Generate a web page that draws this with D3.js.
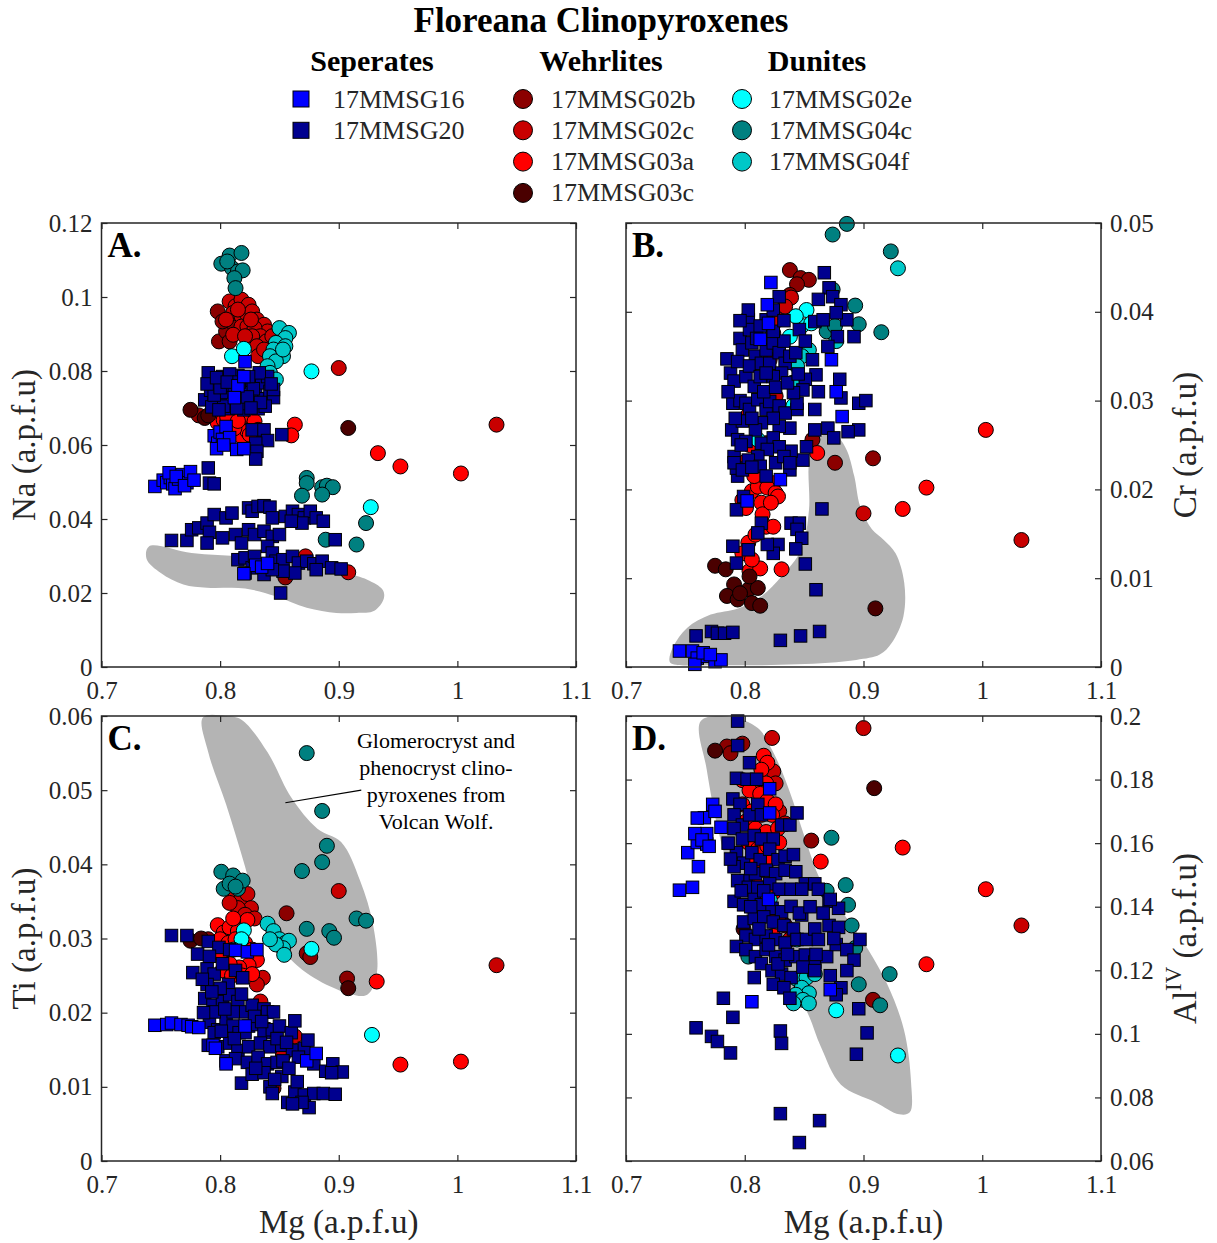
<!DOCTYPE html>
<html>
<head>
<meta charset="utf-8">
<script src="https://cdn.jsdelivr.net/npm/d3@7"></script>
<style>
  body { margin: 0; background: #fff; }
  text { font-family: "Liberation Serif", "Times New Roman", serif; }
</style>
</head>
<body>
<svg id="chart" width="1217" height="1243"></svg>
<script>
// tick values
var mgTicks = [0.7, 0.8, 0.9, 1, 1.1];
var naTicks = [0, 0.02, 0.04, 0.06, 0.08, 0.1, 0.12];
var crTicks = [0, 0.01, 0.02, 0.03, 0.04, 0.05];
var tiTicks = [0, 0.01, 0.02, 0.03, 0.04, 0.05, 0.06];
var alTicks = [0.06, 0.08, 0.1, 0.12, 0.14, 0.16, 0.18, 0.2];

var samples = ["17MMSG16", "17MMSG20", "17MMSG02b", "17MMSG02c", "17MMSG03a", "17MMSG03c", "17MMSG02e", "17MMSG04c", "17MMSG04f"];

// ---- A. Na vs Mg ----
var naMMSG16 = [[0.745,0.0488],[0.752,0.0505],[0.755,0.0498],[0.758,0.0512],[0.760,0.0495],[0.762,0.0482],[0.765,0.0508],[0.768,0.0520],[0.772,0.0498],[0.775,0.0528],[0.757,0.0525],[0.763,0.0515],[0.770,0.0490],[0.778,0.0505],[0.795,0.0625],[0.798,0.0605],[0.800,0.0635],[0.802,0.0615],[0.805,0.0650],[0.808,0.0620],[0.797,0.0590],[0.814,0.0588],[0.820,0.0590],[0.803,0.0600],[0.821,0.0825],[0.815,0.0760],[0.820,0.0785],[0.812,0.0728],[0.830,0.0275],[0.835,0.0270],[0.820,0.0252],[0.840,0.0280]];
var naMMSG20 = [[0.787,0.0722],[0.790,0.0795],[0.792,0.0748],[0.795,0.0715],[0.798,0.0768],[0.800,0.0725],[0.802,0.0785],[0.805,0.0742],[0.807,0.0698],[0.810,0.0762],[0.812,0.0712],[0.815,0.0788],[0.817,0.0735],[0.820,0.0695],[0.822,0.0755],[0.825,0.0718],[0.827,0.0775],[0.830,0.0738],[0.832,0.0698],[0.835,0.0768],[0.837,0.0725],[0.840,0.0785],[0.842,0.0745],[0.845,0.0728],[0.793,0.0703],[0.803,0.0705],[0.818,0.0712],[0.828,0.0752],[0.808,0.0792],[0.833,0.0795],[0.845,0.0750],[0.795,0.0735],[0.812,0.0745],[0.824,0.0785],[0.838,0.0705],[0.800,0.0755],
  [0.789,0.0765],[0.797,0.0782],[0.806,0.0770],[0.814,0.0700],[0.823,0.0730],[0.834,0.0715],[0.843,0.0765],[0.826,0.0700],[0.799,0.0695],[0.816,0.0770],
  [0.827,0.0641],[0.837,0.0641],[0.840,0.0612],[0.830,0.0605],[0.831,0.0583],[0.830,0.0562],[0.852,0.0628],[0.790,0.0538],[0.791,0.0497],[0.795,0.0495],
  [0.759,0.0342],[0.772,0.0342],[0.776,0.0371],[0.782,0.0376],[0.789,0.0389],[0.795,0.0412],[0.791,0.0364],[0.789,0.0335],[0.802,0.0349],[0.805,0.0403],[0.810,0.0416],[0.813,0.0358],[0.818,0.0335],[0.824,0.0430],[0.827,0.0421],[0.832,0.0434],[0.837,0.0436],[0.842,0.0432],[0.844,0.0403],[0.824,0.0371],[0.829,0.0358],[0.837,0.0367],[0.844,0.0353],[0.850,0.0358],[0.840,0.0326],[0.844,0.0308],[0.815,0.0290],[0.821,0.0295],[0.827,0.0268],[0.837,0.0250],[0.821,0.0254],[0.829,0.0299],[0.847,0.0286],[0.853,0.0290],[0.861,0.0299],[0.866,0.0281],[0.873,0.0286],[0.879,0.0279],[0.886,0.0286],[0.881,0.0263],[0.894,0.0268],[0.902,0.0265],[0.863,0.0254],[0.853,0.0259],[0.844,0.0263],[0.851,0.0200],[0.855,0.0407],[0.861,0.0421],[0.866,0.0412],[0.871,0.0403],[0.876,0.0421],[0.881,0.0403],[0.887,0.0394],[0.869,0.0389],[0.860,0.0394],[0.897,0.0344]];
var naMMSG02b = [[0.798,0.0961],[0.799,0.0880],[0.805,0.0907],[0.802,0.0934],[0.808,0.0880],[0.812,0.0925],[0.855,0.0242],[0.782,0.0680]];
var naMMSG02c = [[0.808,0.0988],[0.813,0.0975],[0.818,0.0993],[0.824,0.0979],[0.811,0.0957],[0.818,0.0948],[0.823,0.0952],[0.827,0.0961],[0.831,0.0939],[0.837,0.0925],[0.840,0.0907],[0.818,0.0920],[0.823,0.0920],[0.829,0.0916],[0.834,0.0894],[0.839,0.0880],[0.811,0.0898],[0.805,0.0939],[0.827,0.0894],[0.831,0.0867],[0.832,0.0840],[0.837,0.0858],[0.821,0.0894],[0.826,0.0939],[0.815,0.0966],[0.844,0.0894],[0.900,0.0808],[1.033,0.0655],[0.908,0.0256],[0.872,0.0299]];
var naMMSG03a = [[0.798,0.0660],[0.805,0.0650],[0.811,0.0655],[0.816,0.0637],[0.821,0.0660],[0.826,0.0646],[0.829,0.0664],[0.810,0.0632],[0.818,0.0623],[0.823,0.0637],[0.803,0.0668],[0.832,0.0641],[0.806,0.0675],[0.812,0.0645],[0.825,0.0628],[0.815,0.0665],[0.863,0.0655],[0.860,0.0626],[0.933,0.0578],[0.952,0.0542],[1.003,0.0523]];
var naMMSG03c = [[0.775,0.0695],[0.787,0.0673],[0.908,0.0646],[0.790,0.0680]];
var naMMSG02e = [[0.810,0.0840],[0.820,0.0860],[0.877,0.0799],[0.927,0.0432]];
var naMMSG04c = [[0.801,0.1090],[0.808,0.1112],[0.818,0.1119],[0.810,0.1078],[0.815,0.1069],[0.819,0.1072],[0.812,0.1051],[0.813,0.1024],[0.806,0.1096],[0.873,0.0511],[0.873,0.0497],[0.869,0.0463],[0.886,0.0486],[0.890,0.0490],[0.895,0.0486],[0.886,0.0466],[0.923,0.0389],[0.915,0.0331],[0.889,0.0344]];
var naMMSG04f = [[0.850,0.0916],[0.858,0.0903],[0.855,0.0889],[0.847,0.0876],[0.855,0.0867],[0.845,0.0858],[0.853,0.0840],[0.842,0.0840],[0.847,0.0826],[0.840,0.0813],[0.842,0.0795],[0.847,0.0777],[0.853,0.0858]];
var naField = [[0.740,0.0326],[0.776,0.0308],[0.820,0.0298],[0.860,0.0285],[0.905,0.0254],[0.924,0.0236],[0.937,0.0209],[0.938,0.0185],[0.930,0.0152],[0.915,0.0146],[0.898,0.0146],[0.873,0.0160],[0.847,0.0191],[0.821,0.0212],[0.789,0.0214],[0.769,0.0223],[0.750,0.0254],[0.738,0.0292]];

// ---- B. Cr vs Mg ----
var crMMSG16 = [[0.745,0.0018],[0.756,0.0018],[0.760,0.0010],[0.768,0.0012],[0.775,0.0006],[0.780,0.0008],[0.758,0.0003],[0.765,0.0016],[0.771,0.0014],[0.822,0.0433],[0.819,0.0408],[0.820,0.0387],[0.873,0.0346],[0.882,0.0282],[0.830,0.0211],[0.802,0.0187],[0.813,0.0369],[0.877,0.0310]];
var crMMSG20 = [[0.759,0.0035],[0.772,0.0040],[0.777,0.0038],[0.783,0.0038],[0.790,0.0039],[0.830,0.0030],[0.847,0.0035],[0.863,0.0040],[0.860,0.0087],[0.851,0.0116],[0.865,0.0178],
  [0.867,0.0444],[0.871,0.0427],[0.874,0.0417],[0.881,0.0408],[0.886,0.0391],[0.892,0.0372],[0.878,0.0372],[0.870,0.0361],[0.877,0.0399],[0.860,0.0329],[0.880,0.0324],[0.862,0.0310],[0.881,0.0303],[0.896,0.0297],[0.902,0.0300],[0.859,0.0290],[0.896,0.0267],[0.887,0.0265],[0.870,0.0269],[0.859,0.0267],[0.875,0.0258],[0.852,0.0248],[0.849,0.0233],[0.844,0.0290],[0.839,0.0243],[0.838,0.0222],
  [0.839,0.0162],[0.846,0.0162],[0.844,0.0155],[0.848,0.0145],[0.843,0.0133],[0.828,0.0138],[0.824,0.0128],[0.819,0.0138],[0.814,0.0162],[0.811,0.0151],[0.803,0.0132],[0.793,0.0117],[0.790,0.0136],[0.793,0.0177],
  [0.785,0.0347],[0.788,0.0331],[0.791,0.0322],[0.790,0.0297],[0.789,0.0267],[0.791,0.0237],[0.794,0.0215],[0.793,0.0224],[0.796,0.0370],[0.798,0.0357],[0.794,0.0344],[0.801,0.0327],[0.803,0.0391],[0.804,0.0380],[0.806,0.0365],[0.809,0.0350],[0.804,0.0339],[0.808,0.0316],[0.813,0.0327],[0.814,0.0342],[0.818,0.0357],[0.821,0.0342],[0.824,0.0365],[0.829,0.0354],[0.833,0.0367],[0.834,0.0342],[0.838,0.0350],[0.843,0.0354],[0.831,0.0331],[0.824,0.0327],[0.818,0.0331],[0.796,0.0300],[0.801,0.0297],[0.804,0.0290],[0.811,0.0301],[0.818,0.0290],[0.821,0.0299],[0.829,0.0294],[0.834,0.0286],[0.838,0.0269],[0.829,0.0271],[0.824,0.0280],[0.814,0.0275],[0.809,0.0267],[0.798,0.0277],[0.794,0.0256],[0.801,0.0254],[0.814,0.0252],[0.824,0.0258],[0.829,0.0248],[0.819,0.0245],[0.811,0.0237],[0.803,0.0233],[0.791,0.0230],[0.798,0.0222],[0.813,0.0226],[0.826,0.0230],[0.833,0.0237],[0.838,0.0230],[0.803,0.0402],[0.818,0.0391],[0.824,0.0402],[0.829,0.0417],[0.813,0.0384],[0.824,0.0378],[0.846,0.0380],[0.851,0.0367],[0.859,0.0389],[0.866,0.0391],[0.862,0.0414],[0.857,0.0346],[0.851,0.0324],[0.849,0.0312],[0.844,0.0297],[0.841,0.0309],[0.799,0.0192],
  [0.786,0.0310],[0.792,0.0280],[0.797,0.0250],[0.806,0.0280],[0.816,0.0310],[0.826,0.0315],[0.836,0.0320],[0.806,0.0225],[0.818,0.0215],[0.810,0.0370],[0.796,0.0390],[0.833,0.0390],[0.845,0.0330]];
var crMMSG02b = [[0.838,0.0447],[0.847,0.0438],[0.854,0.0436],[0.844,0.0431],[0.876,0.0230],[0.908,0.0235],[0.857,0.0256],[0.838,0.0419]];
var crMMSG02c = [[0.839,0.0416],[0.834,0.0406],[0.828,0.0391],[0.900,0.0173],[1.033,0.0143],[0.824,0.0376],[0.821,0.0346],[0.826,0.0305],[0.824,0.0207],[0.818,0.0252]];
var crMMSG03a = [[1.003,0.0267],[0.953,0.0202],[0.933,0.0178],[0.861,0.0241],[0.831,0.0110],[0.804,0.0108],[0.813,0.0111],[0.798,0.0188],[0.806,0.0198],[0.811,0.0203],[0.819,0.0202],[0.826,0.0196],[0.814,0.0185],[0.801,0.0179],[0.808,0.0215],[0.803,0.0140],[0.809,0.0149],[0.818,0.0158],[0.798,0.0128],[0.806,0.0121],[0.824,0.0158],[0.803,0.0284],[0.804,0.0250],[0.828,0.0192],[0.799,0.0230],[0.815,0.0172],[0.822,0.0185]];
var crMMSG03c = [[0.775,0.0114],[0.784,0.0110],[0.791,0.0093],[0.785,0.0080],[0.794,0.0076],[0.803,0.0087],[0.811,0.0089],[0.806,0.0072],[0.813,0.0069],[0.796,0.0083],[0.804,0.0102],[0.910,0.0066]];
var crMMSG02e = [[0.852,0.0402],[0.848,0.0384],[0.843,0.0395],[0.856,0.0387],[0.841,0.0294],[0.811,0.0256],[0.838,0.0372]];
var crMMSG04c = [[0.874,0.0487],[0.886,0.0499],[0.923,0.0468],[0.893,0.0407],[0.896,0.0386],[0.915,0.0377],[0.869,0.0378],[0.876,0.0384],[0.874,0.0425]];
var crMMSG04f = [[0.929,0.0449],[0.877,0.0367],[0.854,0.0357],[0.848,0.0350],[0.844,0.0339],[0.840,0.0320]];
var crField = [[0.7365,0.0008],[0.7398,0.0023],[0.7514,0.0044],[0.7713,0.0059],[0.7944,0.0066],[0.8143,0.0080],[0.8309,0.0102],[0.8475,0.0132],[0.8541,0.0177],[0.8541,0.0230],[0.8591,0.0252],[0.8674,0.0262],[0.8773,0.0260],[0.8856,0.0245],[0.8922,0.0215],[0.8972,0.0181],[0.9071,0.0155],[0.9171,0.0143],[0.9270,0.0128],[0.9343,0.0095],[0.9336,0.0057],[0.9237,0.0027],[0.9137,0.0014],[0.8939,0.0008],[0.8442,0.0003],[0.7779,0.0002],[0.7381,0.0004]];

// ---- C. Ti vs Mg ----
var tiMMSG16 = [[0.745,0.0183],[0.755,0.0184],[0.759,0.0186],[0.767,0.0184],[0.773,0.0183],[0.776,0.0181],[0.782,0.0180],[0.813,0.0284],[0.823,0.0282],[0.831,0.0285],[0.794,0.0156],[0.796,0.0152],[0.805,0.0131],[0.873,0.0135],[0.881,0.0145],[0.821,0.0182]];
var tiMMSG20 = [[0.759,0.0304],[0.772,0.0304],[0.777,0.0254],[0.781,0.0279],[0.790,0.0296],[0.799,0.0288],[0.791,0.0276],[0.789,0.0259],[0.795,0.0252],[0.802,0.0266],[0.807,0.0238],[0.789,0.0238],[0.787,0.0219],[0.794,0.0210],[0.802,0.0215],[0.808,0.0224],[0.815,0.0215],[0.821,0.0201],[0.827,0.0210],[0.837,0.0205],[0.840,0.0201],[0.845,0.0201],[0.791,0.0187],[0.798,0.0177],[0.805,0.0191],[0.811,0.0182],[0.816,0.0173],[0.824,0.0182],[0.831,0.0184],[0.837,0.0173],[0.844,0.0177],[0.850,0.0182],[0.860,0.0173],[0.863,0.0189],[0.790,0.0156],[0.798,0.0154],[0.808,0.0159],[0.815,0.0149],[0.824,0.0154],[0.834,0.0159],[0.842,0.0154],[0.852,0.0156],[0.861,0.0149],[0.871,0.0152],[0.874,0.0163],[0.879,0.0131],[0.889,0.0121],[0.895,0.0131],[0.903,0.0120],[0.894,0.0119],[0.805,0.0135],[0.813,0.0138],[0.823,0.0133],[0.832,0.0140],[0.840,0.0131],[0.848,0.0133],[0.818,0.0105],[0.827,0.0117],[0.837,0.0119],[0.852,0.0114],[0.842,0.0100],[0.844,0.0091],[0.857,0.0079],[0.863,0.0093],[0.865,0.0107],[0.871,0.0089],[0.875,0.0072],[0.879,0.0091],[0.887,0.0091],[0.897,0.0090],[0.869,0.0079],[0.861,0.0077],[0.795,0.0201],[0.800,0.0233],[0.813,0.0257],[0.808,0.0285],[0.819,0.0247],[0.811,0.0201],[0.821,0.0173],[0.795,0.0173],[0.853,0.0135],
  [0.785,0.0245],[0.793,0.0228],[0.804,0.0205],[0.818,0.0225],[0.829,0.0195],[0.835,0.0188],[0.848,0.0165],[0.856,0.0160],[0.866,0.0140],[0.858,0.0125],[0.830,0.0125],[0.812,0.0165],[0.801,0.0175],[0.786,0.0200],[0.846,0.0110]];
var tiMMSG02b = [[0.856,0.0334],[0.873,0.0280],[0.876,0.0275],[0.907,0.0246],[0.853,0.0142],[0.845,0.0098],[0.790,0.0299]];
var tiMMSG02c = [[0.900,0.0364],[1.033,0.0264],[0.811,0.0360],[0.818,0.0353],[0.823,0.0360],[0.826,0.0341],[0.815,0.0341],[0.821,0.0332],[0.808,0.0348],[0.829,0.0327],[0.816,0.0320],[0.836,0.0247],[0.831,0.0238],[0.834,0.0215],[0.840,0.0177],[0.853,0.0145],[0.863,0.0168]];
var tiMMSG03a = [[0.932,0.0242],[0.952,0.0130],[1.003,0.0134],[0.798,0.0318],[0.803,0.0308],[0.808,0.0315],[0.815,0.0310],[0.800,0.0299],[0.807,0.0294],[0.813,0.0299],[0.821,0.0294],[0.827,0.0285],[0.831,0.0271],[0.824,0.0264],[0.816,0.0261],[0.808,0.0266],[0.802,0.0257],[0.810,0.0250],[0.819,0.0250],[0.827,0.0252],[0.800,0.0280],[0.823,0.0325],[0.811,0.0327]];
var tiMMSG03c = [[0.775,0.0297],[0.784,0.0300],[0.908,0.0233],[0.800,0.0229]];
var tiMMSG02e = [[0.820,0.0311],[0.818,0.0299],[0.811,0.0285],[0.928,0.0170],[0.877,0.0286]];
var tiMMSG04c = [[0.873,0.0550],[0.886,0.0472],[0.890,0.0425],[0.886,0.0403],[0.869,0.0391],[0.915,0.0327],[0.923,0.0324],[0.873,0.0313],[0.892,0.0310],[0.896,0.0301],[0.801,0.0390],[0.803,0.0367],[0.811,0.0385],[0.808,0.0374],[0.815,0.0367],[0.819,0.0378],[0.813,0.0370]];
var tiMMSG04f = [[0.840,0.0320],[0.845,0.0310],[0.850,0.0299],[0.855,0.0294],[0.858,0.0297],[0.853,0.0287],[0.847,0.0292],[0.842,0.0299],[0.854,0.0278]];
var tiField = [[0.7855,0.0598],[0.805,0.0600],[0.818,0.0595],[0.840,0.0551],[0.860,0.0490],[0.882,0.0448],[0.902,0.0430],[0.918,0.0378],[0.929,0.0318],[0.932,0.0252],[0.924,0.0224],[0.908,0.0226],[0.879,0.0247],[0.860,0.0271],[0.834,0.0322],[0.821,0.0397],[0.805,0.0481],[0.790,0.0551]];

// ---- D. AlIV vs Mg ----
var alMMSG16 = [[0.745,0.1452],[0.756,0.1461],[0.761,0.1526],[0.752,0.1570],[0.760,0.1602],[0.768,0.1597],[0.768,0.1630],[0.758,0.1630],[0.766,0.1680],[0.773,0.1722],[0.775,0.1700],[0.780,0.1650],[0.760,0.1679],[0.806,0.1101],[0.821,0.1771],[0.821,0.1695],[0.820,0.1423],[0.872,0.1139],[0.764,0.1610],[0.770,0.1590]];
var alMMSG20 = [[0.794,0.1984],[0.794,0.1907],[0.804,0.1853],[0.793,0.1804],[0.802,0.1801],[0.810,0.1801],[0.790,0.1739],[0.796,0.1722],[0.791,0.1689],[0.798,0.1657],[0.804,0.1689],[0.811,0.1722],[0.814,0.1689],[0.791,0.1646],[0.798,0.1613],[0.808,0.1624],[0.814,0.1613],[0.824,0.1613],[0.831,0.1657],[0.838,0.1657],[0.844,0.1695],[0.793,0.1570],[0.799,0.1537],[0.806,0.1570],[0.813,0.1548],[0.821,0.1581],[0.828,0.1548],[0.834,0.1559],[0.841,0.1564],[0.791,0.1526],[0.801,0.1482],[0.809,0.1504],[0.818,0.1515],[0.826,0.1504],[0.834,0.1515],[0.843,0.1510],[0.851,0.1472],[0.859,0.1472],[0.862,0.1455],[0.794,0.1482],[0.803,0.1461],[0.811,0.1461],[0.821,0.1472],[0.829,0.1455],[0.839,0.1455],[0.848,0.1455],[0.791,0.1417],[0.799,0.1406],[0.808,0.1423],[0.814,0.1406],[0.823,0.1395],[0.831,0.1384],[0.839,0.1401],[0.848,0.1374],[0.799,0.1352],[0.808,0.1363],[0.816,0.1368],[0.824,0.1352],[0.833,0.1341],[0.841,0.1330],[0.801,0.1308],[0.809,0.1297],[0.818,0.1308],[0.826,0.1297],[0.834,0.1286],[0.844,0.1297],[0.852,0.1297],[0.859,0.1330],[0.862,0.1297],[0.871,0.1341],[0.879,0.1335],[0.871,0.1417],[0.879,0.1395],[0.793,0.1275],[0.801,0.1265],[0.809,0.1243],[0.818,0.1265],[0.826,0.1243],[0.834,0.1232],[0.843,0.1243],[0.851,0.1248],[0.859,0.1226],[0.869,0.1243],[0.877,0.1281],[0.886,0.1265],[0.892,0.1232],[0.897,0.1297],[0.814,0.1221],[0.823,0.1199],[0.831,0.1188],[0.839,0.1177],[0.849,0.1210],[0.859,0.1199],[0.872,0.1183],[0.881,0.1145],[0.886,0.1199],[0.824,0.1156],[0.833,0.1145],[0.838,0.1112],[0.877,0.1123],[0.808,0.1177],[0.782,0.1112],[0.790,0.1052],[0.759,0.1019],[0.772,0.0992],[0.777,0.0976],[0.788,0.0940],[0.830,0.1009],[0.831,0.0970],[0.830,0.0749],[0.863,0.0727],[0.846,0.0658],[0.894,0.0936],[0.903,0.1003],[0.896,0.1079],[0.872,0.1423],
  [0.786,0.1600],[0.788,0.1550],[0.797,0.1450],[0.805,0.1400],[0.812,0.1330],[0.820,0.1280],[0.828,0.1220],[0.836,0.1250],[0.846,0.1380],[0.855,0.1400],[0.866,0.1380],[0.875,0.1300],[0.860,0.1250],[0.805,0.1520],[0.816,0.1450]];
var alMMSG02b = [[0.856,0.1608],[0.908,0.1107],[0.785,0.1904],[0.788,0.1883],[0.798,0.1913]];
var alMMSG02c = [[0.900,0.1962],[1.033,0.1341],[0.823,0.1931],[0.824,0.1826],[0.826,0.1788],[0.829,0.1700],[0.834,0.1662],[0.834,0.1341],[0.838,0.1297],[0.828,0.1363]];
var alMMSG03a = [[0.933,0.1586],[1.003,0.1455],[0.953,0.1219],[0.864,0.1542],[0.816,0.1875],[0.819,0.1853],[0.814,0.1831],[0.809,0.1788],[0.818,0.1788],[0.798,0.1798],[0.804,0.1766],[0.813,0.1755],[0.819,0.1733],[0.826,0.1722],[0.798,0.1722],[0.806,0.1700],[0.814,0.1689],[0.823,0.1689],[0.801,0.1668],[0.809,0.1646],[0.818,0.1635],[0.828,0.1646],[0.803,0.1602],[0.811,0.1581],[0.819,0.1591],[0.829,0.1602],[0.804,0.1537],[0.813,0.1515],[0.821,0.1548],[0.809,0.1472],[0.818,0.1428],[0.824,0.1444],[0.824,0.1308],[0.821,0.1384]];
var alMMSG03c = [[0.775,0.1891],[0.909,0.1773],[0.799,0.1330]];
var alMMSG02e = [[0.821,0.1423],[0.929,0.0932],[0.877,0.1074],[0.844,0.1297]];
var alMMSG04c = [[0.873,0.1617],[0.885,0.1468],[0.887,0.1406],[0.890,0.1341],[0.893,0.1270],[0.922,0.1188],[0.896,0.1156],[0.914,0.1090],[0.869,0.1450],[0.803,0.1243]];
var alMMSG04f = [[0.844,0.1172],[0.852,0.1177],[0.848,0.1145],[0.854,0.1128],[0.843,0.1123],[0.849,0.1107],[0.854,0.1096],[0.841,0.1096],[0.859,0.1188]];
var alField = [[0.763,0.1984],[0.788,0.1997],[0.811,0.1962],[0.824,0.1886],[0.8375,0.1766],[0.851,0.1613],[0.864,0.1483],[0.884,0.1374],[0.904,0.1265],[0.920,0.1156],[0.934,0.1014],[0.940,0.0851],[0.939,0.0753],[0.930,0.0747],[0.910,0.0785],[0.881,0.0840],[0.864,0.0960],[0.851,0.1080],[0.828,0.1200],[0.804,0.1352],[0.788,0.1504],[0.778,0.1635],[0.768,0.1831]];

// annotation in panel C
var noteLines = ["Glomerocryst and", "phenocryst clino-", "pyroxenes from", "Volcan Wolf."];
var notePointer = [[0.855,0.0483],[0.919,0.0500]];

// styling per sample
var style = {
  "17MMSG16":  {shape: "square", fill: "#0000ff"},
  "17MMSG20":  {shape: "square", fill: "#00008f"},
  "17MMSG02b": {shape: "circle", fill: "#8b0000"},
  "17MMSG02c": {shape: "circle", fill: "#c80000"},
  "17MMSG03a": {shape: "circle", fill: "#ff0000"},
  "17MMSG03c": {shape: "circle", fill: "#4a0000"},
  "17MMSG02e": {shape: "circle", fill: "#00ffff"},
  "17MMSG04c": {shape: "circle", fill: "#008080"},
  "17MMSG04f": {shape: "circle", fill: "#00c8c8"}
};
var drawOrder = ["17MMSG02b", "17MMSG02c", "17MMSG03a", "17MMSG03c", "17MMSG02e", "17MMSG04c", "17MMSG04f", "17MMSG20", "17MMSG16"];

var panels = [
  {letter: "A.", left: 101.5, right: 576, top: 223, bottom: 667, yDomain: [0, 0.12], yTicks: naTicks, ySide: "left", yLabel: "Na (a.p.f.u)", field: naField, xLabel: false,
   data: {"17MMSG16": naMMSG16, "17MMSG20": naMMSG20, "17MMSG02b": naMMSG02b, "17MMSG02c": naMMSG02c, "17MMSG03a": naMMSG03a, "17MMSG03c": naMMSG03c, "17MMSG02e": naMMSG02e, "17MMSG04c": naMMSG04c, "17MMSG04f": naMMSG04f}},
  {letter: "B.", left: 626, right: 1101, top: 223, bottom: 667, yDomain: [0, 0.05], yTicks: crTicks, ySide: "right", yLabel: "Cr (a.p.f.u)", field: crField, xLabel: false,
   data: {"17MMSG16": crMMSG16, "17MMSG20": crMMSG20, "17MMSG02b": crMMSG02b, "17MMSG02c": crMMSG02c, "17MMSG03a": crMMSG03a, "17MMSG03c": crMMSG03c, "17MMSG02e": crMMSG02e, "17MMSG04c": crMMSG04c, "17MMSG04f": crMMSG04f}},
  {letter: "C.", left: 101.5, right: 576, top: 716, bottom: 1161, yDomain: [0, 0.06], yTicks: tiTicks, ySide: "left", yLabel: "Ti (a.p.f.u)", field: tiField, xLabel: true,
   data: {"17MMSG16": tiMMSG16, "17MMSG20": tiMMSG20, "17MMSG02b": tiMMSG02b, "17MMSG02c": tiMMSG02c, "17MMSG03a": tiMMSG03a, "17MMSG03c": tiMMSG03c, "17MMSG02e": tiMMSG02e, "17MMSG04c": tiMMSG04c, "17MMSG04f": tiMMSG04f}},
  {letter: "D.", left: 626, right: 1101, top: 716, bottom: 1161, yDomain: [0.06, 0.2], yTicks: alTicks, ySide: "right", yLabel: "AlIV", field: alField, xLabel: true,
   data: {"17MMSG16": alMMSG16, "17MMSG20": alMMSG20, "17MMSG02b": alMMSG02b, "17MMSG02c": alMMSG02c, "17MMSG03a": alMMSG03a, "17MMSG03c": alMMSG03c, "17MMSG02e": alMMSG02e, "17MMSG04c": alMMSG04c, "17MMSG04f": alMMSG04f}}
];

var svg = d3.select("#chart");
var ink = "#262626";
var sq = 12.5, rad = 7.5;

function drawMarker(sel, shape, fill, size) {
  if (shape === "square") {
    sel.append("rect").attr("x", -size / 2).attr("y", -size / 2)
      .attr("width", size).attr("height", size)
      .attr("fill", fill).attr("stroke", "#000").attr("stroke-width", 1);
  } else {
    sel.append("circle").attr("r", size / 2)
      .attr("fill", fill).attr("stroke", "#000").attr("stroke-width", 1);
  }
}

panels.forEach(function(p) {
  var x = d3.scaleLinear().domain([0.7, 1.1]).range([p.left, p.right]);
  var y = d3.scaleLinear().domain(p.yDomain).range([p.bottom, p.top]);
  var g = svg.append("g");

  // grey Volcan Wolf field
  var area = d3.line()
    .x(function(d) { return x(d[0]); })
    .y(function(d) { return y(d[1]); })
    .curve(d3.curveCatmullRomClosed.alpha(0.5));
  g.append("path").attr("d", area(p.field)).attr("fill", "#b4b4b4");

  // points
  drawOrder.forEach(function(name) {
    var s = style[name];
    var pts = g.selectAll(null).data(p.data[name]).enter().append("g")
      .attr("transform", function(d) { return "translate(" + x(d[0]) + "," + y(d[1]) + ")"; });
    pts.each(function() {
      drawMarker(d3.select(this), s.shape, s.fill, s.shape === "square" ? sq : rad * 2);
    });
  });

  // axes with inward ticks on all four sides
  g.append("g").attr("transform", "translate(0," + p.bottom + ")")
    .call(d3.axisBottom(x).tickValues(mgTicks).tickSize(-6).tickPadding(14).tickFormat(d3.format("")));
  g.append("g").attr("transform", "translate(0," + p.top + ")")
    .call(d3.axisTop(x).tickValues(mgTicks).tickSize(-6).tickFormat(""));
  var yFmt = function(d) { return d3.format("")(+d.toFixed(2)); };
  if (p.ySide === "left") {
    g.append("g").attr("transform", "translate(" + p.left + ",0)")
      .call(d3.axisLeft(y).tickValues(p.yTicks).tickSize(-6).tickPadding(9).tickFormat(yFmt));
    g.append("g").attr("transform", "translate(" + p.right + ",0)")
      .call(d3.axisRight(y).tickValues(p.yTicks).tickSize(-6).tickFormat(""));
  } else {
    g.append("g").attr("transform", "translate(" + p.right + ",0)")
      .call(d3.axisRight(y).tickValues(p.yTicks).tickSize(-6).tickPadding(9).tickFormat(yFmt));
    g.append("g").attr("transform", "translate(" + p.left + ",0)")
      .call(d3.axisLeft(y).tickValues(p.yTicks).tickSize(-6).tickFormat(""));
  }
  g.selectAll(".domain").remove();
  g.selectAll(".tick line").attr("stroke", ink).attr("stroke-width", 1.2);
  g.selectAll(".tick text").attr("fill", ink)
    .style("font-family", "'Liberation Serif', 'Times New Roman', serif").style("font-size", "25px");

  g.append("rect").attr("x", p.left).attr("y", p.top)
    .attr("width", p.right - p.left).attr("height", p.bottom - p.top)
    .attr("fill", "none").attr("stroke", ink).attr("stroke-width", 1.5);

  g.append("text").attr("x", p.left + 6).attr("y", p.top + 34)
    .attr("font-size", 35).attr("font-weight", "bold").attr("fill", "#000").text(p.letter);

  // y label
  var lx = p.ySide === "left" ? p.left - 78 : p.right + 84;
  var ly = (p.top + p.bottom) / 2;
  var lab = g.append("text").attr("transform", "translate(" + lx + "," + ly + ") rotate(-90)")
    .attr("text-anchor", "middle").attr("dominant-baseline", "central")
    .attr("font-size", 33).attr("fill", ink);
  if (p.yLabel === "AlIV") {
    lab.append("tspan").text("Al");
    lab.append("tspan").attr("font-size", 23).attr("dy", -12).text("IV");
    lab.append("tspan").attr("dy", 12).text(" (a.p.f.u)");
  } else {
    lab.text(p.yLabel);
  }

  if (p.xLabel) {
    g.append("text").attr("x", (p.left + p.right) / 2).attr("y", p.bottom + 72)
      .attr("text-anchor", "middle").attr("font-size", 33).attr("fill", ink).text("Mg (a.p.f.u)");
  }

  // annotation
  if (p.letter === "C.") {
    g.append("line")
      .attr("x1", x(notePointer[0][0])).attr("y1", y(notePointer[0][1]))
      .attr("x2", x(notePointer[1][0])).attr("y2", y(notePointer[1][1]))
      .attr("stroke", "#000").attr("stroke-width", 1.2);
    g.selectAll(null).data(noteLines).enter().append("text")
      .attr("x", x(0.982)).attr("y", function(d, i) { return p.top + 32 + i * 27; })
      .attr("text-anchor", "middle").attr("font-size", 22).attr("fill", "#000")
      .text(function(d) { return d; });
  }
});

// title and legend
svg.append("text").attr("x", 601).attr("y", 32).attr("text-anchor", "middle")
  .attr("font-size", 35).attr("font-weight", "bold").attr("fill", "#000").text("Floreana Clinopyroxenes");

var groups = [
  {title: "Seperates", cx: 372, mx: 301, tx: 333, members: ["17MMSG16", "17MMSG20"]},
  {title: "Wehrlites", cx: 601, mx: 523, tx: 551, members: ["17MMSG02b", "17MMSG02c", "17MMSG03a", "17MMSG03c"]},
  {title: "Dunites", cx: 817, mx: 742, tx: 769, members: ["17MMSG02e", "17MMSG04c", "17MMSG04f"]}
];
groups.forEach(function(gr) {
  svg.append("text").attr("x", gr.cx).attr("y", 71).attr("text-anchor", "middle")
    .attr("font-size", 30).attr("font-weight", "bold").attr("fill", "#000").text(gr.title);
  gr.members.forEach(function(name, i) {
    var yy = 99 + i * 31.3;
    var s = style[name];
    drawMarker(svg.append("g").attr("transform", "translate(" + gr.mx + "," + yy + ")"), s.shape, s.fill, s.shape === "square" ? 16 : 19);
    svg.append("text").attr("x", gr.tx).attr("y", yy).attr("dominant-baseline", "central")
      .attr("font-size", 26).attr("fill", ink).text(name);
  });
});
</script>
</body>
</html>
